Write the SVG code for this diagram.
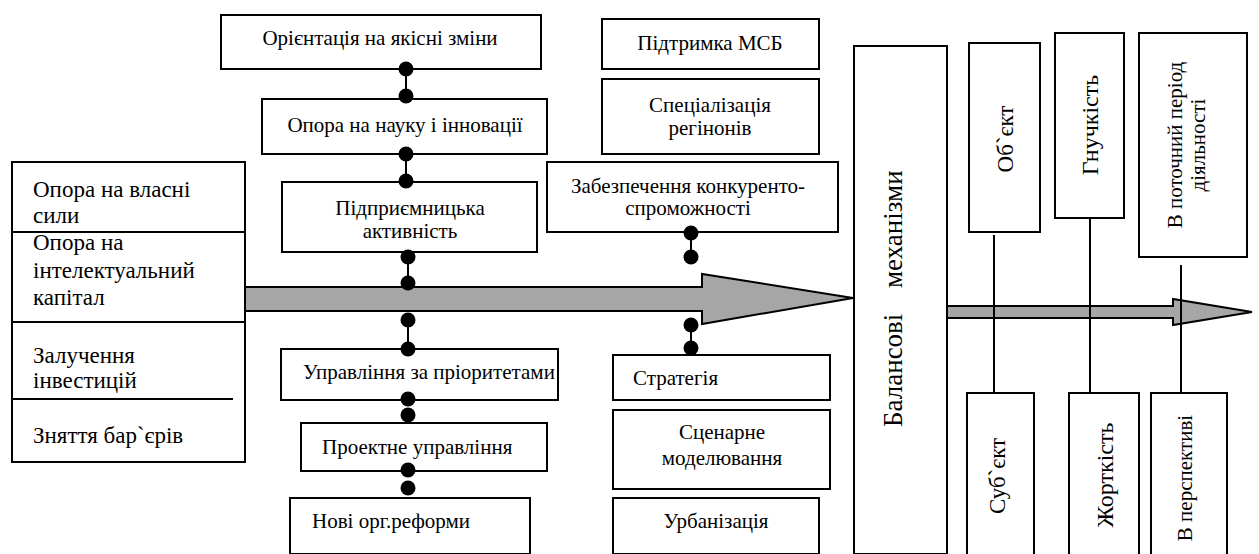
<svg xmlns="http://www.w3.org/2000/svg" width="1259" height="554" viewBox="0 0 1259 554">
<style>
.b{fill:#fff;stroke:#000;stroke-width:2}
.arr{fill:#a6a6a6;stroke:#000;stroke-width:2;stroke-linejoin:miter}
.ln{stroke:#000;stroke-width:2;fill:none}
.dot{fill:#000}
</style>
<rect width="1259" height="554" fill="#fff"/>

<g id="main-arrow">
<polygon class="arr" points="245,287 702,287 702,274 853,298 702,324 702,311 245,311"/>
</g>
<g id="right-arrow">
<polygon class="arr" points="947,306 1173,306 1173,299 1252,312 1173,325 1173,318 947,318"/>
</g>

<g id="left-box">
<rect class="b" x="12" y="162" width="233" height="300"/>
<line class="ln" x1="12" y1="232" x2="245" y2="232"/>
<line class="ln" x1="12" y1="322" x2="245" y2="322"/>
<line class="ln" x1="12" y1="399" x2="233" y2="399"/>
<text x="33" y="197" style="font-family:'Liberation Serif','DejaVu Serif',serif;font-size:23px">Опора на власні</text>
<text x="33" y="223" style="font-family:'Liberation Serif','DejaVu Serif',serif;font-size:23px">сили</text>
<text x="33" y="250" style="font-family:'Liberation Serif','DejaVu Serif',serif;font-size:23px">Опора на</text>
<text x="33" y="278" style="font-family:'Liberation Serif','DejaVu Serif',serif;font-size:23px">інтелектуальний</text>
<text x="33" y="305" style="font-family:'Liberation Serif','DejaVu Serif',serif;font-size:23px">капітал</text>
<text x="33" y="363" style="font-family:'Liberation Serif','DejaVu Serif',serif;font-size:23px">Залучення</text>
<text x="33" y="388" style="font-family:'Liberation Serif','DejaVu Serif',serif;font-size:23px">інвестицій</text>
<text x="33" y="443" style="font-family:'Liberation Serif','DejaVu Serif',serif;font-size:23px">Зняття бар`єрів</text>
</g>

<g id="n-orientation">
<rect class="b" x="221" y="15" width="320" height="54"/>
<text text-anchor="middle" x="380" y="45" style="font-family:'Liberation Serif','DejaVu Serif',serif;font-size:21px">Орієнтація на якісні зміни</text>
</g>
<g id="n-science">
<rect class="b" x="262" y="99" width="285" height="55"/>
<text text-anchor="middle" x="405" y="132" style="font-family:'Liberation Serif','DejaVu Serif',serif;font-size:21px">Опора на науку і інновації</text>
</g>
<g id="n-entrepreneur">
<rect class="b" x="282" y="182" width="255" height="70"/>
<text text-anchor="middle" x="410" y="215" style="font-family:'Liberation Serif','DejaVu Serif',serif;font-size:21px">Підприємницька</text>
<text text-anchor="middle" x="410" y="238" style="font-family:'Liberation Serif','DejaVu Serif',serif;font-size:21px">активність</text>
</g>
<g id="n-priorities">
<rect class="b" x="281" y="349" width="277" height="51"/>
<text x="303" y="379" style="font-family:'Liberation Serif','DejaVu Serif',serif;font-size:21px">Управління за пріоритетами</text>
</g>
<g id="n-project">
<rect class="b" x="301" y="423" width="246" height="48"/>
<text x="322" y="454" style="font-family:'Liberation Serif','DejaVu Serif',serif;font-size:21px">Проектне управління</text>
</g>
<g id="n-reforms">
<rect class="b" x="290" y="498" width="240" height="56"/>
<text x="312" y="528" style="font-family:'Liberation Serif','DejaVu Serif',serif;font-size:21px">Нові орг.реформи</text>
</g>

<g id="n-msb">
<rect class="b" x="602" y="19" width="217" height="50"/>
<text text-anchor="middle" x="710" y="50" style="font-family:'Liberation Serif','DejaVu Serif',serif;font-size:21px">Підтримка МСБ</text>
</g>
<g id="n-specialization">
<rect class="b" x="602" y="79" width="217" height="75"/>
<text text-anchor="middle" x="710" y="112" style="font-family:'Liberation Serif','DejaVu Serif',serif;font-size:21px">Спеціалізація</text>
<text text-anchor="middle" x="710" y="135" style="font-family:'Liberation Serif','DejaVu Serif',serif;font-size:21px">регінонів</text>
</g>
<g id="n-competitiveness">
<rect class="b" x="547" y="162" width="291" height="70"/>
<text text-anchor="middle" x="688" y="193" style="font-family:'Liberation Serif','DejaVu Serif',serif;font-size:21px">Забезпечення конкуренто-</text>
<text text-anchor="middle" x="688" y="215" style="font-family:'Liberation Serif','DejaVu Serif',serif;font-size:21px">спроможності</text>
</g>
<g id="n-strategy">
<rect class="b" x="613" y="355" width="217" height="45"/>
<text x="633" y="385" style="font-family:'Liberation Serif','DejaVu Serif',serif;font-size:21px">Стратегія</text>
</g>
<g id="n-scenario">
<rect class="b" x="613" y="410" width="217" height="79"/>
<text text-anchor="middle" x="722" y="439" style="font-family:'Liberation Serif','DejaVu Serif',serif;font-size:21px">Сценарне</text>
<text text-anchor="middle" x="722" y="465" style="font-family:'Liberation Serif','DejaVu Serif',serif;font-size:21px">моделювання</text>
</g>
<g id="n-urban">
<rect class="b" x="613" y="498" width="206" height="56"/>
<text text-anchor="middle" x="716" y="528" style="font-family:'Liberation Serif','DejaVu Serif',serif;font-size:21px">Урбанізація</text>
</g>

<g id="n-balance">
<rect class="b" x="854" y="46" width="93" height="508"/>
<text transform="rotate(-90 902 427)" x="902" y="427" style="font-family:'Liberation Serif','DejaVu Serif',serif;font-size:27px">Балансові</text>
<text transform="rotate(-90 902 288)" x="902" y="288" style="font-family:'Liberation Serif','DejaVu Serif',serif;font-size:27px">механізми</text>
</g>

<g id="n-object">
<rect class="b" x="969" y="43" width="71" height="189"/>
<text text-anchor="middle" transform="rotate(-90 1013 139)" x="1013" y="139" style="font-family:'Liberation Serif','DejaVu Serif',serif;font-size:23px">Об`єкт</text>
</g>
<g id="n-flex">
<rect class="b" x="1055" y="33" width="69" height="185"/>
<text text-anchor="middle" transform="rotate(-90 1098 125)" x="1098" y="125" style="font-family:'Liberation Serif','DejaVu Serif',serif;font-size:24px">Гнучкість</text>
</g>
<g id="n-current">
<rect class="b" x="1139" y="33" width="108" height="224"/>
<text text-anchor="middle" transform="rotate(-90 1182 145)" x="1182" y="145" style="font-family:'Liberation Serif','DejaVu Serif',serif;font-size:21px">В поточний період</text>
<text text-anchor="middle" transform="rotate(-90 1205 145)" x="1205" y="145" style="font-family:'Liberation Serif','DejaVu Serif',serif;font-size:21px">діяльності</text>
</g>
<g id="n-subject">
<rect class="b" x="967" y="393" width="67" height="163"/>
<text text-anchor="middle" transform="rotate(-90 1005 476)" x="1005" y="476" style="font-family:'Liberation Serif','DejaVu Serif',serif;font-size:23px">Суб`єкт</text>
</g>
<g id="n-rigid">
<rect class="b" x="1069" y="393" width="70" height="163"/>
<text text-anchor="middle" transform="rotate(-90 1113 475)" x="1113" y="475" style="font-family:'Liberation Serif','DejaVu Serif',serif;font-size:24px">Жорткість</text>
</g>
<g id="n-future">
<rect class="b" x="1151" y="393" width="76" height="163"/>
<text text-anchor="middle" transform="rotate(-90 1192 478)" x="1192" y="478" style="font-family:'Liberation Serif','DejaVu Serif',serif;font-size:21px">В перспективі</text>
</g>

<g id="connectors">
<line class="ln" x1="406" y1="69" x2="406" y2="96"/>
<circle class="dot" cx="406" cy="69" r="7.5"/>
<circle class="dot" cx="406" cy="96" r="7.5"/>
<line class="ln" x1="406" y1="154" x2="406" y2="181"/>
<circle class="dot" cx="406" cy="154" r="7.5"/>
<circle class="dot" cx="406" cy="181" r="7.5"/>
<line class="ln" x1="408" y1="257" x2="408" y2="283"/>
<circle class="dot" cx="408" cy="257" r="7.5"/>
<circle class="dot" cx="408" cy="283" r="7.5"/>
<line class="ln" x1="408" y1="320" x2="408" y2="349"/>
<circle class="dot" cx="408" cy="320" r="7.5"/>
<circle class="dot" cx="408" cy="349" r="7.5"/>
<circle class="dot" cx="408" cy="399" r="7.5"/>
<circle class="dot" cx="408" cy="415" r="7.5"/>
<circle class="dot" cx="408" cy="470" r="7.5"/>
<circle class="dot" cx="408" cy="488" r="7.5"/>
<line class="ln" x1="691" y1="233" x2="691" y2="257"/>
<circle class="dot" cx="691" cy="233" r="7.5"/>
<circle class="dot" cx="691" cy="257" r="7.5"/>
<line class="ln" x1="691" y1="325" x2="691" y2="348"/>
<circle class="dot" cx="691" cy="325" r="7.5"/>
<circle class="dot" cx="691" cy="348" r="7.5"/>
<line class="ln" x1="994" y1="235" x2="994" y2="393"/>
<line class="ln" x1="1090" y1="218" x2="1090" y2="393"/>
<line class="ln" x1="1181" y1="265" x2="1181" y2="393"/>
</g>
</svg>
